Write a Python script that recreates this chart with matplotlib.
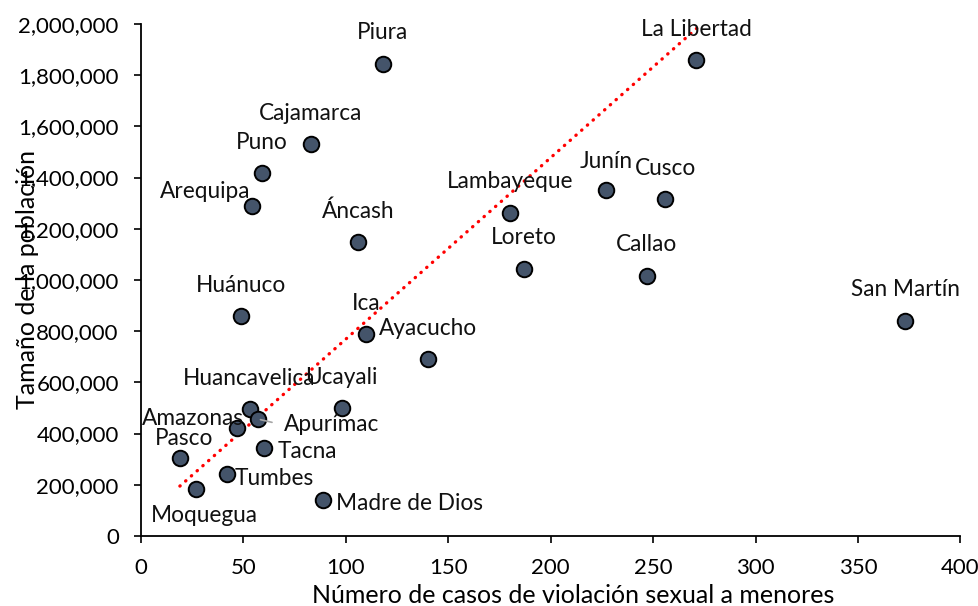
import matplotlib
matplotlib.use("Agg")
import matplotlib.pyplot as plt
from matplotlib.ticker import FuncFormatter, MultipleLocator

# regions, cases (x) and population (y)
regions = ['Piura', 'La Libertad', 'Cajamarca', 'Puno', 'Arequipa', 'Áncash',
           'Lambayeque', 'Junín', 'Cusco', 'Loreto', 'Callao', 'San Martín',
           'Huánuco', 'Ica', 'Ayacucho', 'Huancavelica', 'Ucayali', 'Amazonas',
           'Apurímac', 'Pasco', 'Tacna', 'Tumbes', 'Moquegua', 'Madre de Dios']
casos = [118, 271, 83, 59, 54, 106,
         180, 227, 256, 187, 247, 373,
         49, 110, 140, 53, 98, 47,
         57, 19, 60, 42, 27, 89]
poblacion = [1844000, 1858000, 1531000, 1417000, 1287000, 1147000,
             1262000, 1350000, 1316000, 1043000, 1016000, 841000,
             859000, 788000, 691000, 496000, 499000, 421000,
             457000, 306000, 343000, 241000, 182000, 139000]

# label offsets in pixels (dx, dy)
offsets = {'Arequipa': (-46, 15), 'Amazonas': (-44, 10), 'Apurímac': (74, -6),
           'Pasco': (4, 19), 'Tacna': (43, -3), 'Tumbes': (47, -4),
           'Moquegua': (8, -26), 'Madre de Dios': (86, -3), 'Junín': (0, 29)}

trend_x = [19, 272]
trend_y = [195000, 1988000]

plt.rcParams['font.family'] = ['Lato', 'DejaVu Sans']

fig = plt.figure(figsize=(9.79, 6.06), dpi=100)
ax = fig.add_axes([0.144, 0.1155, 0.837, 0.845])

ax.plot(trend_x, trend_y, color='#ff0000', lw=2.4,
        linestyle=(0, (0.1, 2.2)), dash_capstyle='round', zorder=2)
ax.scatter(casos, poblacion, s=125, c='#44546a', edgecolors='black',
           linewidths=1.4, zorder=3)

for name, x, y in zip(regions, casos, poblacion):
    dx, dy = offsets.get(name, (0, 31))
    ax.annotate(name, (x, y), xytext=(dx, dy), textcoords='offset pixels',
                ha='center', va='center', fontsize=16.3, color='#111111',
                zorder=4)

# leader line for Apurímac
ax.annotate('', (57, 457000), xytext=(17, -4), textcoords='offset pixels',
            arrowprops=dict(arrowstyle='-', color='#a6a6a6', lw=1.2))

ax.set_xlim(0, 400)
ax.set_ylim(0, 2000000)
ax.xaxis.set_major_locator(MultipleLocator(50))
ax.yaxis.set_major_locator(MultipleLocator(200000))
ax.yaxis.set_major_formatter(FuncFormatter(lambda v, p: f'{int(v):,}'))
ax.tick_params(labelsize=16, length=5, width=1.2, colors='black')
ax.tick_params(axis='x', pad=11)
ax.tick_params(axis='y', pad=11)
for s in ['top', 'right']:
    ax.spines[s].set_visible(False)
for s in ['left', 'bottom']:
    ax.spines[s].set_linewidth(1.3)

ax.set_xlabel('Número de casos de violación sexual a menores', fontsize=18)
ax.set_ylabel('Tamaño de la población', fontsize=18)
ax.xaxis.set_label_coords(0.527, -0.093)
ax.yaxis.set_label_coords(-0.125, 0.5)

fig.savefig('out.png', dpi=100)
